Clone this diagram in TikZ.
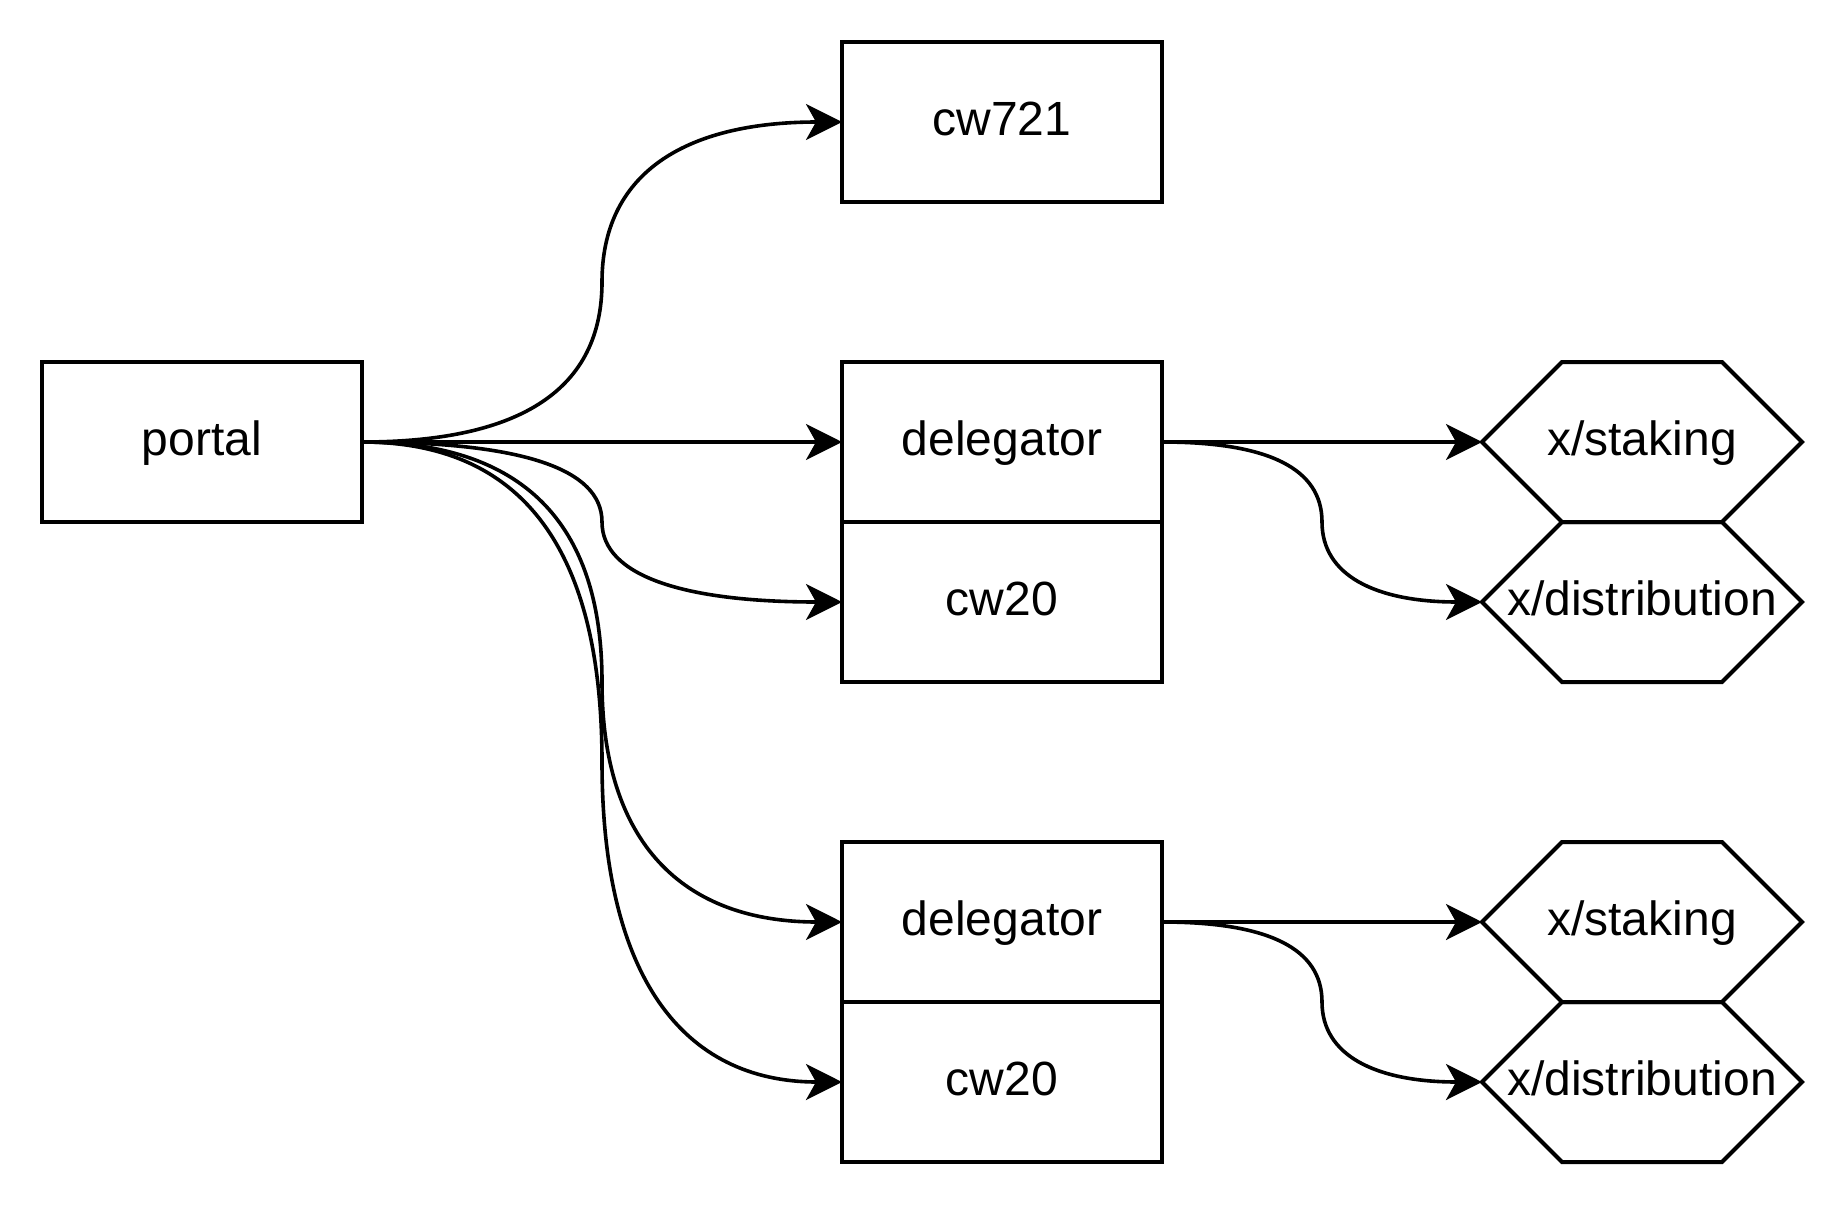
\documentclass[tikz,border=0pt]{standalone}
\usepackage{fontspec}
\setmainfont{Liberation Sans}
\usetikzlibrary{arrows.meta,calc}
\begin{document}
\begin{tikzpicture}[x=1.33333pt,y=-1.33333pt,
  lbl/.style={font=\fontsize{24}{28}\selectfont, text height=16.5pt, text depth=3.5pt},
  box/.style={lbl, draw, line width=2pt, minimum width=160pt, minimum height=80pt, inner sep=0pt, outer sep=0pt},
  hexnode/.style={lbl, minimum width=160pt, minimum height=80pt, inner sep=0pt, outer sep=0pt},
  hexline/.style={line width=2pt},
  arr/.style={line width=1.8pt, -{Stealth[length=18pt,width=18pt,inset=5pt]}},
  ocurve/.style={to path={let \p1=(\tikztostart), \p2=(\tikztotarget) in
     .. controls ({\x1+(\x2-\x1)/3},\y1) and ({(\x1+\x2)/2},{(\y1+\y2)/2+(\y1-\y2)/3}) ..
     ({(\x1+\x2)/2},{(\y1+\y2)/2})
     .. controls ({(\x1+\x2)/2},{(\y1+\y2)/2-(\y1-\y2)/3}) and ({\x2-(\x2-\x1)/3},\y2) ..
     (\tikztotarget) \tikztonodes}}]
\fill[white] (-15.75,-15.75) rectangle (675.75,435.75);
\useasboundingbox (-15.75,-15.75) rectangle (675.75,435.75);

\node[box] (portal) at (60,150) {portal};
\node[box] (cw721) at (360,30) {cw721};
\node[box] (del1) at (360,150) {delegator};
\node[box] (cw20a) at (360,210) {cw20};
\node[box] (del2) at (360,330) {delegator};
\node[box] (cw20b) at (360,390) {cw20};

\node[hexnode] (stk1) at (600,150) {x/staking};
\node[hexnode] (dst1) at (600,210) {x/distribution};
\node[hexnode] (stk2) at (600,330) {x/staking};
\node[hexnode] (dst2) at (600,390) {x/distribution};

\foreach \h in {stk1,dst1,stk2,dst2}{
  \draw[hexline] (\h.west) -- ($(\h.north west)+(30,0)$) -- ($(\h.north east)+(-30,0)$)
    -- (\h.east) -- ($(\h.south east)+(-30,0)$) -- ($(\h.south west)+(30,0)$) -- cycle;
}

\draw[arr] (portal.east) to[ocurve] (cw721.west);
\draw[arr] (portal.east) -- (del1.west);
\draw[arr] (portal.east) to[ocurve] (cw20a.west);
\draw[arr] (portal.east) to[ocurve] (del2.west);
\draw[arr] (portal.east) to[ocurve] (cw20b.west);

\draw[arr] (del1.east) -- (stk1.west);
\draw[arr] (del1.east) to[ocurve] (dst1.west);
\draw[arr] (del2.east) -- (stk2.west);
\draw[arr] (del2.east) to[ocurve] (dst2.west);
\end{tikzpicture}
\end{document}
